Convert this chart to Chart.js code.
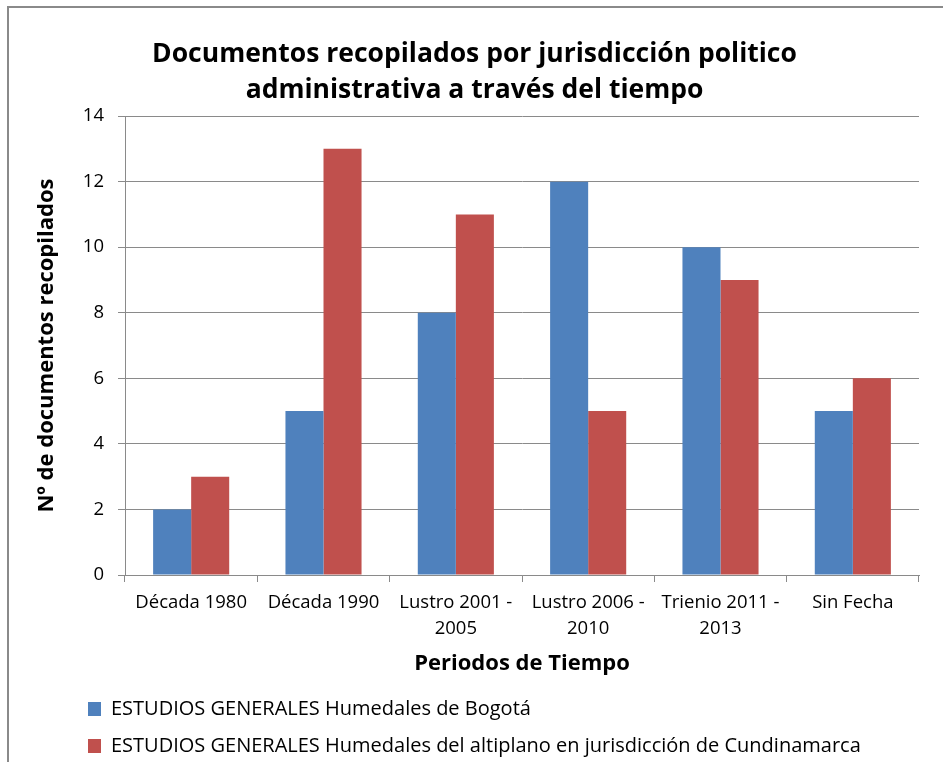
<!DOCTYPE html>
<html>
<head>
<meta charset="utf-8">
<script src="https://cdn.jsdelivr.net/npm/chart.js@4.4.0/dist/chart.umd.min.js"></script>
<style>
  html, body { margin: 0; padding: 0; background: #fff; overflow: hidden; }
  #frame { position: absolute; left: 7px; top: 6px; width: 1000px; height: 1000px;
           border-left: 2px solid #8a8a8a; border-top: 2px solid #8a8a8a; }
  #wrap { position: absolute; left: 0; top: 0; width: 943px; height: 766px; }
</style>
</head>
<body>
<div id="frame"></div>
<div id="wrap"><canvas id="chart"></canvas></div>
<script>
var categories = [
  'Década 1980',
  'Década 1990',
  ['Lustro 2001 -', '2005'],
  ['Lustro 2006 -', '2010'],
  ['Trienio 2011 -', '2013'],
  'Sin Fecha'
];
var bogota = [2, 5, 8, 12, 10, 5];
var cundinamarca = [3, 13, 11, 5, 9, 6];
var seriesNames = [
  'ESTUDIOS GENERALES Humedales de Bogotá',
  'ESTUDIOS GENERALES Humedales del altiplano en jurisdicción de Cundinamarca'
];
var titleLines = ['Documentos recopilados por jurisdicción politico', 'administrativa a través del tiempo'];
var yTitle = 'Nº de documentos recopilados';
var xTitle = 'Periodos de Tiempo';

var font = "'Open Sans', sans-serif";
var gridGray = '#8a8a8a';

// move the legend rows over so they start near the left edge like the original
var legendShift = {
  id: 'legendShift',
  afterLayout: function(chart) {
    if (chart.legend) {
      chart.legend.left = 88 - chart.legend.options.labels.padding;
    }
  }
};

var ctx = document.getElementById('chart').getContext('2d');
new Chart(ctx, {
  type: 'bar',
  data: {
    labels: categories,
    datasets: [{
      label: seriesNames[0],
      data: bogota,
      backgroundColor: '#4f81bd',
      borderWidth: 0
    }, {
      label: seriesNames[1],
      data: cundinamarca,
      backgroundColor: '#c0504d',
      borderWidth: 0
    }]
  },
  options: {
    responsive: true,
    maintainAspectRatio: false,
    animation: false,
    categoryPercentage: 0.575,
    barPercentage: 1.0,
    layout: { padding: { top: 10, left: 30, right: 24, bottom: 0 } },
    plugins: {
      title: {
        display: true,
        text: titleLines,
        color: '#000',
        font: { family: font, size: 26.5, weight: 'bold', lineHeight: 1.36 },
        padding: { top: 26, bottom: 8 }
      },
      legend: {
        position: 'bottom',
        align: 'start',
        labels: {
          color: '#000',
          font: { family: font, size: 20 },
          boxWidth: 13,
          boxHeight: 14,
          padding: 17
        }
      },
      tooltip: { enabled: false }
    },
    scales: {
      x: {
        grid: { display: true, drawOnChartArea: false, drawTicks: true, tickLength: 7, color: gridGray },
        border: { color: gridGray, width: 1 },
        ticks: { color: '#000', padding: 8, maxRotation: 0, font: { family: font, size: 18.5, lineHeight: 1.4 } },
        title: {
          display: true,
          text: xTitle,
          color: '#000',
          font: { family: font, size: 22, weight: 'bold', lineHeight: 1.2 },
          padding: { top: 2, bottom: 5 }
        },
        afterFit: function(axis) { axis.height = 107; }
      },
      y: {
        min: 0,
        max: 14,
        ticks: { stepSize: 2, color: '#000', padding: 14, font: { family: font, size: 18.5 } },
        grid: { color: gridGray, tickLength: 7, drawTicks: true },
        border: { color: gridGray, width: 1 },
        title: {
          display: true,
          text: yTitle,
          color: '#000',
          font: { family: font, size: 22, weight: 'bold', lineHeight: 1.2 },
          padding: { top: 4, bottom: 4 }
        },
        afterFit: function(axis) { axis.width = 95; }
      }
    }
  },
  plugins: [legendShift]
});
</script>
</body>
</html>
